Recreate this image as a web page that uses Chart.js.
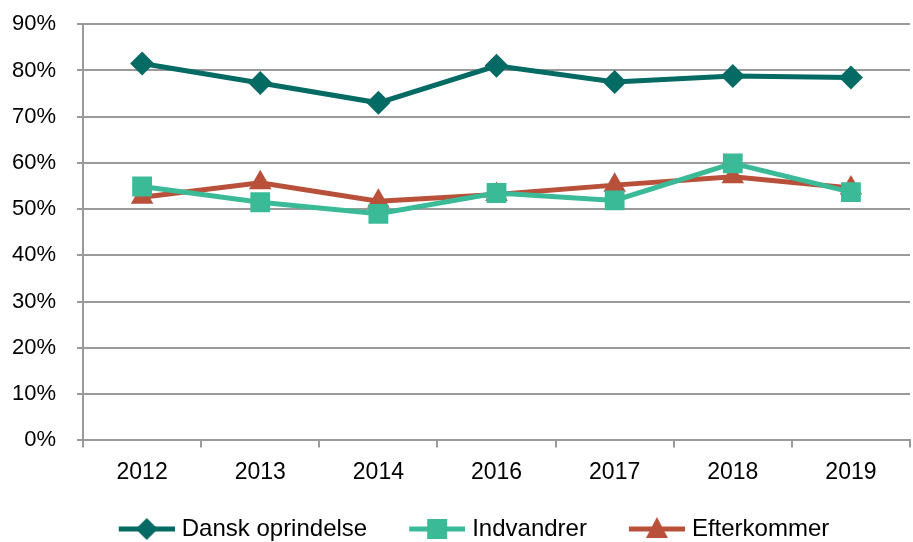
<!DOCTYPE html>
<html lang="da">
<head>
<meta charset="UTF-8">
<title>Andel</title>
<script src="https://cdn.jsdelivr.net/npm/chart.js"></script>
<style>
    html, body { margin: 0; padding: 0; background: #fff; overflow: hidden; }
    .boks { width: 913px; height: 551px; position: relative; }
</style>
</head>
<body>
<div class="boks">
    <canvas id="grafik"></canvas>
</div>

<script>
    // data (procent)
    var aar = ['2012', '2013', '2014', '2016', '2017', '2018', '2019']
    var dansk = [81.5, 77.3, 73.0, 81.0, 77.5, 78.8, 78.5]
    var indvandrer = [54.9, 51.5, 49.0, 53.5, 51.9, 59.9, 53.7]
    var efterkommer = [52.6, 55.7, 51.7, 53.2, 55.2, 57.0, 54.6]
    var yTicks = [0, 10, 20, 30, 40, 50, 60, 70, 80, 90]

    var farveDansk = '#036b63'
    var farveInd = '#3bba98'
    var farveEft = '#b9503a'
    var gra = '#9a9a9a'
    var skrift = "'Liberation Sans', Arial, sans-serif"

    // lille billede med linje + markør til forklaringen
    // (venstre del er gennemsigtig, saa der bliver luft mellem punkterne)
    function legendeBillede(farve, form) {
        var c = document.createElement('canvas')
        c.width = 87
        c.height = 26
        var g = c.getContext('2d')
        var mx = 59, my = 13
        g.strokeStyle = farve
        g.fillStyle = farve
        g.lineWidth = 5
        g.beginPath()
        g.moveTo(31, my)
        g.lineTo(87, my)
        g.stroke()
        g.beginPath()
        if (form == 'ruder') {
            g.moveTo(mx, my - 11); g.lineTo(mx + 11, my); g.lineTo(mx, my + 11); g.lineTo(mx - 11, my)
        } else if (form == 'firkant') {
            g.rect(mx - 10, my - 10, 20, 20)
        } else {
            g.moveTo(mx, my - 12); g.lineTo(mx + 11, my + 9); g.lineTo(mx - 11, my + 9)
        }
        g.closePath()
        g.fill()
        return c
    }

    var billeder = [
        legendeBillede(farveDansk, 'ruder'),
        legendeBillede(farveInd, 'firkant'),
        legendeBillede(farveEft, 'trekant')
    ]

    const data = {
        labels: aar,
        datasets: [{
            label: 'Dansk oprindelse',
            data: dansk,
            borderColor: farveDansk,
            backgroundColor: farveDansk,
            borderWidth: 5,
            pointStyle: 'rectRot',
            pointRadius: 12,
            pointBorderWidth: 0
        }, {
            label: 'Indvandrer',
            data: indvandrer,
            borderColor: farveInd,
            backgroundColor: farveInd,
            borderWidth: 5,
            pointStyle: 'rect',
            pointRadius: 14,
            pointBorderWidth: 0
        }, {
            label: 'Efterkommer',
            data: efterkommer,
            borderColor: farveEft,
            backgroundColor: farveEft,
            borderWidth: 5,
            pointStyle: 'triangle',
            pointRadius: 13,
            pointBorderWidth: 0
        }]
    };

    const config = {
        type: 'line',
        data: data,
        options: {
            responsive: true,
            maintainAspectRatio: false,
            animation: false,
            layout: {
                autoPadding: false,
                padding: { left: 12, right: 3, top: 0, bottom: 0 }
            },
            scales: {
                x: {
                    offset: true,
                    afterFit: function (akse) {
                        akse.height += 4
                    },
                    grid: {
                        offset: true,
                        drawOnChartArea: false,
                        drawTicks: true,
                        tickLength: 7,
                        color: gra,
                        lineWidth: 2
                    },
                    border: { color: gra, width: 2 },
                    ticks: {
                        color: '#000',
                        padding: 11,
                        font: { family: skrift, size: 23 }
                    }
                },
                y: {
                    min: 0,
                    max: 90,
                    afterBuildTicks: function (akse) {
                        akse.ticks = yTicks.map(v => ({ value: v }))
                    },
                    afterFit: function (akse) {
                        akse.width -= 11
                    },
                    grid: {
                        color: gra,
                        lineWidth: 2,
                        tickLength: 16,
                        tickBorderDash: [0, 10, 6, 0]
                    },
                    border: { color: gra, width: 2 },
                    ticks: {
                        color: '#000',
                        padding: 11,
                        font: { family: skrift, size: 22 },
                        callback: function (v) { return v + '%' }
                    }
                }
            },
            plugins: {
                tooltip: { enabled: false },
                legend: {
                    position: 'bottom',
                    labels: {
                        usePointStyle: true,
                        pointStyleWidth: 77,
                        padding: 16,
                        color: '#000',
                        font: { family: skrift, size: 24 },
                        generateLabels: function (chart) {
                            return chart.data.datasets.map((ds, i) => ({
                                text: ds.label,
                                pointStyle: billeder[i],
                                fillStyle: ds.borderColor,
                                strokeStyle: ds.borderColor,
                                lineWidth: 0,
                                hidden: false,
                                datasetIndex: i
                            }))
                        }
                    }
                }
            }
        }
    };

    const grafik = new Chart(document.getElementById('grafik'), config);
</script>
</body>
</html>
